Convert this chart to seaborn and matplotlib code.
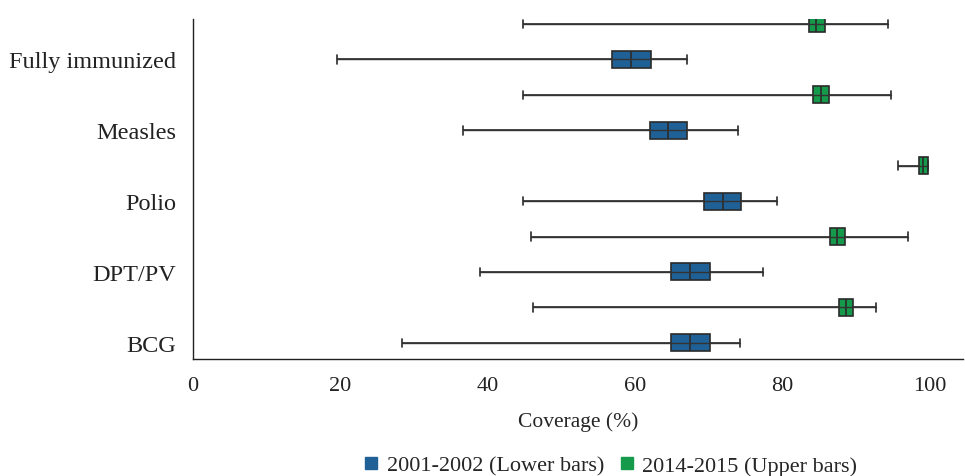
import pandas as pd
import matplotlib
matplotlib.use("Agg")
import matplotlib.pyplot as plt
from matplotlib.lines import Line2D
import seaborn as sns

categories = ["Fully immunized", "Measles", "Polio", "DPT/PV", "BCG"]
periods = ["2001-2002 (Lower bars)", "2014-2015 (Upper bars)"]

# min, q1, median, q3, max for each category
stats_2001 = [
    [19.6, 56.9, 59.5, 62.2, 67.0],
    [36.7, 62.0, 64.5, 67.1, 73.9],
    [44.8, 69.4, 71.9, 74.3, 79.2],
    [38.9, 64.8, 67.5, 70.1, 77.3],
    [28.3, 64.9, 67.5, 70.2, 74.2],
]
stats_2014 = [
    [44.8, 83.6, 84.6, 85.7, 94.3],
    [44.8, 84.1, 85.2, 86.3, 94.7],
    [95.7, 98.5, 99.0, 99.7, 99.8],
    [45.9, 86.4, 87.4, 88.5, 97.0],
    [46.2, 87.6, 88.6, 89.5, 92.7],
]
colors = ["#1f6096", "#149a4a"]

rows = []
for i, cat in enumerate(categories):
    for v in stats_2001[i]:
        rows.append({"pos": i, "period": periods[0], "value": v})
    for v in stats_2014[i]:
        rows.append({"pos": i - 0.5, "period": periods[1], "value": v})
df = pd.DataFrame(rows)

sns.set_style("white")
plt.rcParams["font.family"] = ["Liberation Serif", "DejaVu Serif"]

fig = plt.figure(figsize=(9.65, 4.77), dpi=100)
ax = fig.add_axes([0.2, 0.245, 0.798, 0.713])

sns.boxplot(data=df, x="value", y="pos", hue="period", orient="y",
            native_scale=True, dodge=False, whis=(0, 100), width=0.48,
            palette=colors, saturation=1, linecolor="#2a2a2a", linewidth=1.2,
            legend=False, ax=ax)
# whisker line running through each box
sns.lineplot(data=df, x="value", y="pos", units="pos", estimator=None,
             color="#333333", linewidth=1.0, legend=False, ax=ax, zorder=5)

ax.set_xlim(0, 104.5)
ax.set_ylim(4.23, -0.57)
ax.set_yticks(range(len(categories)), categories)
ax.set_xticks([0, 20, 40, 60, 80, 100])
ax.tick_params(axis="both", length=0, colors="#222222")
ax.tick_params(axis="y", labelsize=17.5, pad=12)
ax.tick_params(axis="x", labelsize=16, pad=12)
ax.set_xlabel("Coverage (%)", fontsize=15.5, labelpad=12)
ax.set_ylabel("")
for s in ["top", "right"]:
    ax.spines[s].set_visible(False)
for s in ["left", "bottom"]:
    ax.spines[s].set_color("#222222")
    ax.spines[s].set_linewidth(1)

handles = [Line2D([], [], marker="s", linestyle="", markersize=9,
                  markerfacecolor=c, markeredgecolor=c) for c in colors]
fig.legend(handles, periods, loc="center", bbox_to_anchor=(0.632, 0.022),
           ncol=2, frameon=False, fontsize=16, handlelength=0.8,
           handletextpad=0.3, columnspacing=0.6)

fig.savefig("out.png", dpi=100)
